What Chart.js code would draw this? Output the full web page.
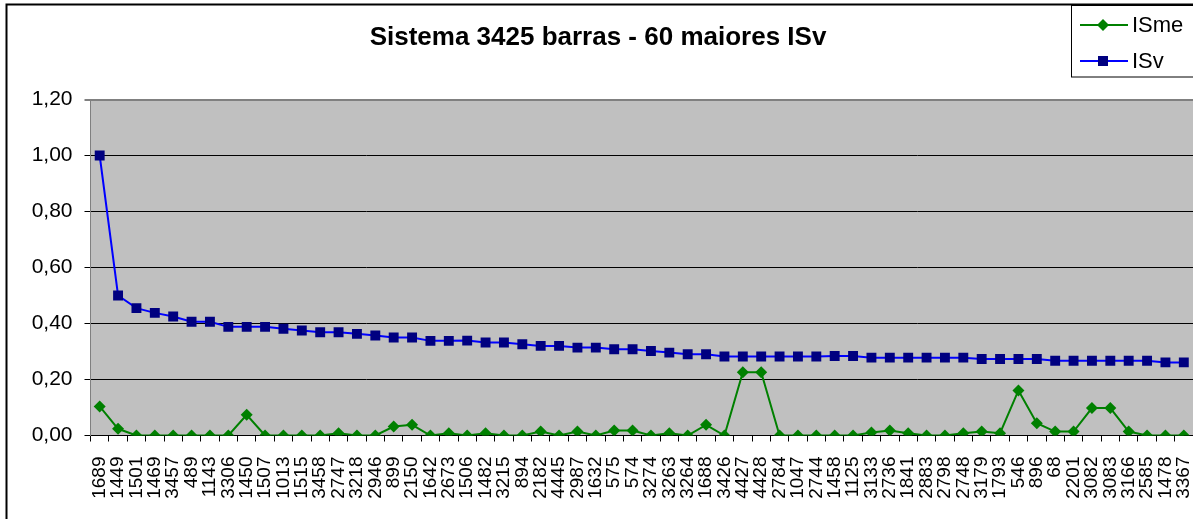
<!DOCTYPE html>
<html>
<head>
<meta charset="utf-8">
<script src="https://cdn.jsdelivr.net/npm/chart.js@4"></script>
<style>
  html, body { margin: 0; padding: 0; background: #fff; overflow: hidden; }
  #wrap { width: 1200px; height: 519px; position: relative; }
</style>
</head>
<body>
<div id="wrap"><canvas id="chart"></canvas></div>
<script>
const barras = ['1689','1449','1501','1469','3457','489','1143','3306','1450','1507',
  '1013','1515','3458','2747','3218','2946','899','2150','1642','2673',
  '1506','1482','3215','894','2182','4445','2987','1632','575','574',
  '3274','3263','3264','1688','3426','4427','4428','2784','1047','2744',
  '1458','1125','3133','2736','1841','2883','2798','2748','3179','1793',
  '546','896','68','2201','3082','3083','3166','2585','1478','3367'];

const isme = [0.104,0.024,0,0,0,0,0,0,0.074,0,
  0,0,0,0.008,0,0,0.032,0.038,0,0.008,
  0,0.008,0,0,0.014,0,0.014,0,0.018,0.018,
  0,0.008,0,0.038,0,0.226,0.226,0,0,0,
  0,0,0.011,0.018,0.008,0,0,0.008,0.014,0.008,
  0.161,0.044,0.014,0.014,0.098,0.098,0.014,0,0,0];

const isv = [1.00,0.50,0.455,0.438,0.425,0.406,0.406,0.388,0.388,0.388,
  0.381,0.375,0.369,0.369,0.363,0.357,0.350,0.350,0.338,0.338,
  0.339,0.332,0.332,0.326,0.320,0.320,0.314,0.314,0.308,0.308,
  0.302,0.296,0.290,0.290,0.282,0.282,0.282,0.282,0.282,0.282,
  0.284,0.284,0.278,0.278,0.278,0.278,0.278,0.278,0.273,0.273,
  0.273,0.273,0.267,0.267,0.267,0.267,0.267,0.267,0.261,0.261];

const yTicks = [0, 0.2, 0.4, 0.6, 0.8, 1.0, 1.2];

const FONT = 'Arial, "Liberation Sans", sans-serif';

// grey plot area, outer frame and the boxed legend at top right
const frame = {
  id: 'frame',
  beforeDraw(chart) {
    const { ctx, chartArea: a } = chart;
    ctx.save();
    ctx.fillStyle = '#fff';
    ctx.fillRect(0, 0, chart.width, chart.height);
    ctx.fillStyle = '#C0C0C0';
    ctx.fillRect(a.left, a.top, a.right - a.left, a.bottom - a.top);
    ctx.strokeStyle = '#000';
    ctx.lineWidth = 2;
    ctx.strokeRect(6.5, 4.5, chart.width + 20, chart.height + 20);
    ctx.restore();
  },
  afterDraw(chart) {
    const ctx = chart.ctx;
    ctx.save();
    ctx.fillStyle = '#fff';
    ctx.fillRect(1071, 5, 140, 72);
    ctx.strokeStyle = '#000';
    ctx.lineWidth = 1;
    ctx.strokeRect(1071.5, 5.5, 140, 71.5);
    chart.data.datasets.forEach((ds, i) => {
      const y = 25 + i * 36;
      ctx.strokeStyle = ds.borderColor;
      ctx.lineWidth = 2;
      ctx.beginPath();
      ctx.moveTo(1080, y);
      ctx.lineTo(1128, y);
      ctx.stroke();
      ctx.fillStyle = ds.pointBackgroundColor;
      ctx.beginPath();
      if (ds.pointStyle === 'rectRot') {
        ctx.moveTo(1103, y - 6); ctx.lineTo(1109, y); ctx.lineTo(1103, y + 6); ctx.lineTo(1097, y);
      } else {
        ctx.rect(1098, y - 5, 10, 10);
      }
      ctx.closePath();
      ctx.fill();
      ctx.fillStyle = '#000';
      ctx.font = '22px ' + FONT;
      ctx.textBaseline = 'middle';
      ctx.fillText(ds.label, 1132, y + 1);
    });
    ctx.restore();
  }
};

new Chart(document.getElementById('chart'), {
  type: 'line',
  data: {
    labels: barras,
    datasets: [{
      label: 'ISme',
      data: isme,
      borderColor: '#008000',
      borderWidth: 2,
      pointStyle: 'rectRot',
      pointRadius: 6,
      pointBackgroundColor: '#008000',
      pointBorderColor: '#008000',
      pointBorderWidth: 0,
      tension: 0
    }, {
      label: 'ISv',
      data: isv,
      borderColor: '#0000FF',
      borderWidth: 2,
      pointStyle: 'rect',
      pointRadius: 7,
      pointBackgroundColor: '#000080',
      pointBorderColor: '#000080',
      pointBorderWidth: 0,
      tension: 0
    }]
  },
  options: {
    responsive: true,
    maintainAspectRatio: false,
    animation: false,
    layout: { padding: { left: 0, right: 4, top: 0, bottom: 0 } },
    plugins: {
      legend: { display: false },
      tooltip: { enabled: false },
      title: {
        display: true,
        text: 'Sistema 3425 barras - 60 maiores ISv',
        color: '#000',
        font: { family: FONT, size: 26, weight: 'bold', lineHeight: 1.2 },
        padding: { top: 22, bottom: 46.3 }
      }
    },
    scales: {
      x: {
        offset: true,
        afterFit(s) { s.height = 83.5; s.paddingLeft = 0; s.paddingRight = 0; },
        border: { color: '#000', width: 1 },
        grid: { offset: true, drawOnChartArea: false, drawTicks: true, tickLength: 6, color: '#000' },
        ticks: {
          autoSkip: false, maxRotation: 90, minRotation: 90, padding: 15,
          color: '#000', font: { family: FONT, size: 19 }
        }
      },
      y: {
        min: 0, max: 1.2,
        afterFit(s) { s.width = 90.5; },
        afterBuildTicks(s) { s.ticks = yTicks.map(v => ({ value: v })); },
        border: { color: '#808080', width: 1 },
        grid: {
          tickLength: 6,
          color: c => (c.tick && c.tick.value === 1.2) ? '#808080' : '#000',
          lineWidth: c => (c.tick && c.tick.value === 1.2) ? 2 : 1
        },
        ticks: {
          padding: 12, color: '#000', font: { family: FONT, size: 21 },
          callback: v => v.toFixed(2).replace('.', ',')
        }
      }
    }
  },
  plugins: [frame]
});
</script>
</body>
</html>
